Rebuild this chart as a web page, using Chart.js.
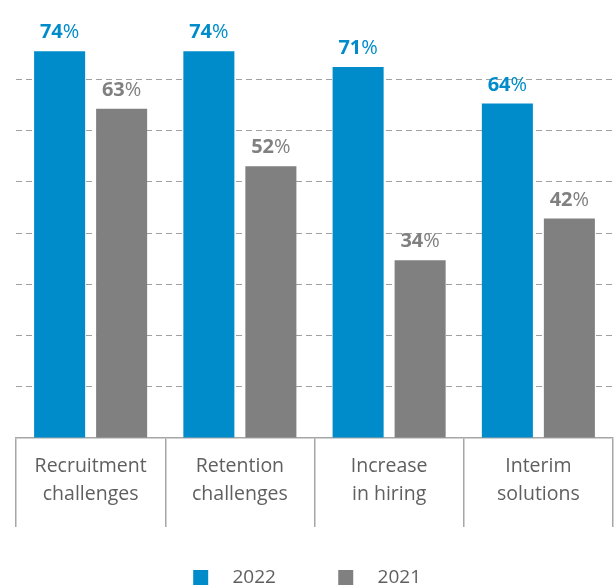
<!DOCTYPE html>
<html>
<head>
<meta charset="utf-8">
<script src="https://cdn.jsdelivr.net/npm/chart.js@4.4.1/dist/chart.umd.min.js"></script>
<style>
  html, body { margin: 0; padding: 0; background: #fff; }
  #wrap { width: 615px; height: 587px; }
</style>
</head>
<body>
<div id="wrap"><canvas id="chart"></canvas></div>
<script>
// ===== DATA =====
const categories = [
  ['Recruitment', 'challenges'],
  ['Retention', 'challenges'],
  ['Increase', 'in hiring'],
  ['Interim', 'solutions']
];
const seriesNames = ['2022', '2021'];
const values2022 = [74, 74, 71, 64];
const values2021 = [63, 52, 34, 42];

const BLUE = '#008ccb';
const GREY = '#808080';
const TEXT = '#5f5f5f';
const FONT = "'Open Sans', 'Noto Sans', sans-serif";

// ===== VALUE LABELS (bold number, lighter % sign) =====
const valueLabels = {
  id: 'valueLabels',
  afterDatasetsDraw(chart) {
    const { ctx } = chart;
    ctx.save();
    ctx.textBaseline = 'alphabetic';
    ctx.textAlign = 'left';
    chart.data.datasets.forEach((ds, di) => {
      const meta = chart.getDatasetMeta(di);
      meta.data.forEach((bar, i) => {
        const num = String(ds.data[i]);
        ctx.font = `bold 20px ${FONT}`;
        const wNum = ctx.measureText(num).width;
        ctx.font = `normal 20px ${FONT}`;
        const wPct = ctx.measureText('%').width;
        const x0 = bar.x - (wNum + wPct) / 2;
        const y = bar.y - 13;
        ctx.fillStyle = ds.backgroundColor;
        ctx.font = `bold 20px ${FONT}`;
        ctx.fillText(num, x0, y);
        ctx.font = `normal 20px ${FONT}`;
        ctx.fillText('%', x0 + wNum, y);
      });
    });
    ctx.restore();
  }
};

// ===== CHART =====
new Chart(document.getElementById('chart'), {
  type: 'bar',
  data: {
    labels: categories,
    datasets: [
      { label: seriesNames[0], data: values2022, backgroundColor: BLUE, categoryPercentage: 0.831, barPercentage: 0.823 },
      { label: seriesNames[1], data: values2021, backgroundColor: GREY, categoryPercentage: 0.831, barPercentage: 0.823 }
    ]
  },
  options: {
    responsive: true,
    maintainAspectRatio: false,
    animation: false,
    layout: { padding: { top: 20, left: 16, right: 2, bottom: -10 } },
    plugins: {
      tooltip: { enabled: false },
      legend: {
        position: 'bottom',
        labels: {
          color: TEXT,
          font: { family: FONT, size: 19 },
          boxWidth: 15,
          boxHeight: 15,
          padding: 8,
          // spaces widen the gap between swatch and year, and between the two entries
          generateLabels(chart) {
            return chart.data.datasets.map((ds, i) => ({
              text: '   ' + ds.label + (i === 0 ? '           ' : '   '),
              fillStyle: ds.backgroundColor,
              strokeStyle: ds.backgroundColor,
              lineWidth: 0,
              fontColor: TEXT,
              datasetIndex: i
            }));
          }
        }
      }
    },
    scales: {
      x: {
        offset: true,
        grid: {
          offset: true,
          drawOnChartArea: false,
          drawTicks: true,
          tickLength: 89,
          color: '#a6a6a6',
          lineWidth: 1.5
        },
        border: { display: true, color: '#a6a6a6', width: 1.5 },
        ticks: {
          color: TEXT,
          font: { family: FONT, size: 19.5, lineHeight: 1.4 },
          padding: -74,
          maxRotation: 0,
          autoSkip: false
        },
        afterFit(scale) { scale.height = 122; }
      },
      y: {
        min: 0,
        max: 80,
        ticks: { display: false, stepSize: 9.8 },
        border: { display: false, dash: [6, 4] },
        grid: {
          drawTicks: false,
          color: ctx => (ctx.tick.value > 0 && ctx.tick.value < 75) ? '#a0a0a0' : 'rgba(0,0,0,0)',
          lineWidth: 1
        },
        afterFit(scale) { scale.width = 0; }
      }
    }
  },
  plugins: [valueLabels]
});
</script>
</body>
</html>
